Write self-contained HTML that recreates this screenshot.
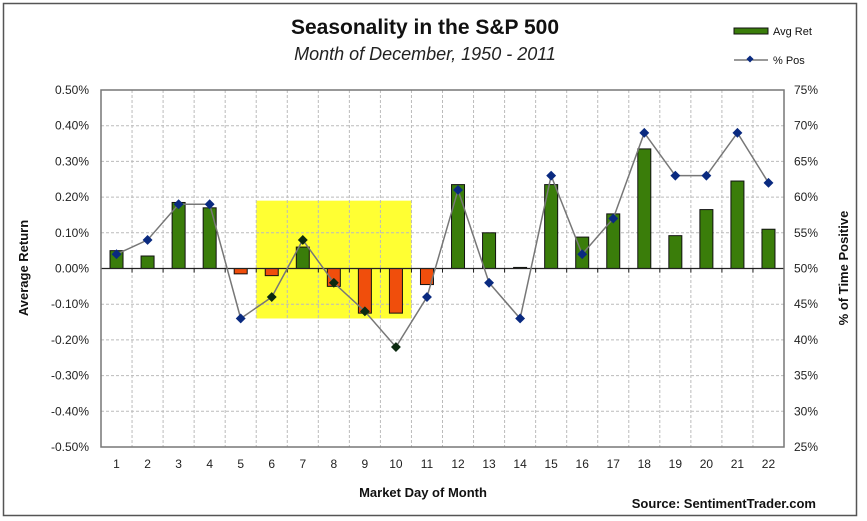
<!DOCTYPE html>
<html><head><meta charset="utf-8"><style>
html,body{margin:0;padding:0;background:#fff;}
svg{display:block;font-family:"Liberation Sans",Arial,sans-serif;}
</style></head><body>
<svg id="chart" width="867" height="521" viewBox="0 0 867 521" xmlns="http://www.w3.org/2000/svg">
<rect x="3.5" y="3.5" width="853" height="512" fill="#fff" stroke="#555" stroke-width="1.5"/>
<text x="425" y="34" text-anchor="middle" font-size="21" font-weight="bold" fill="#111">Seasonality in the S&amp;P 500</text>
<text x="425" y="60" text-anchor="middle" font-size="18" font-style="italic" fill="#222">Month of December, 1950 - 2011</text>
<g>
<rect x="734" y="28" width="34" height="6" fill="#3a7d0a" stroke="#111" stroke-width="1"/>
<text x="773" y="35" font-size="11" fill="#111">Avg Ret</text>
<line x1="734" y1="60" x2="768" y2="60" stroke="#333" stroke-width="1"/>
<rect x="747.5" y="56.5" width="5" height="5" fill="#0a2a80" transform="rotate(45 750 59)"/>
<text x="773" y="64" font-size="11" fill="#111">% Pos</text>
</g>
<g id="grid"></g>
<g id="marks"></g>
<text transform="translate(28,268) rotate(-90)" text-anchor="middle" font-size="13" font-weight="bold" fill="#111">Average Return</text>
<text transform="translate(848,268) rotate(-90)" text-anchor="middle" font-size="13" font-weight="bold" fill="#111">% of Time Positive</text>
<text x="423" y="497" text-anchor="middle" font-size="13" font-weight="bold" fill="#111">Market Day of Month</text>
<text x="816" y="508" text-anchor="end" font-size="13" font-weight="bold" fill="#111">Source: SentimentTrader.com</text>
</svg>
<script>
const days = [1,2,3,4,5,6,7,8,9,10,11,12,13,14,15,16,17,18,19,20,21,22];
const avgRet = [0.05,0.035,0.185,0.17,-0.015,-0.02,0.06,-0.05,-0.125,-0.125,-0.045,0.235,0.10,0.003,0.235,0.088,0.153,0.335,0.092,0.165,0.245,0.11];
const pctPos = [52,54,59,59,43,46,54,48,44,39,46,61,48,43,63,52,57,69,63,63,69,62];
const leftTicks = [0.5,0.4,0.3,0.2,0.1,0,-0.1,-0.2,-0.3,-0.4,-0.5];
const rightTicks = [75,70,65,60,55,50,45,40,35,30,25];
const highlightRange = [6,10];
const highlightVals = [0.19,-0.14];

const NS='http://www.w3.org/2000/svg';
const L=101,R=784,T=90,B=447;
const bw=(R-L)/days.length;
const xc=i=>L+bw*(i+0.5);
const yL=v=>T+(0.5-v)/1.0*(B-T);
const yR=v=>T+(75-v)/50*(B-T);
function mk(tag,attrs,parent){const e=document.createElementNS(NS,tag);for(const k in attrs)e.setAttribute(k,attrs[k]);parent.appendChild(e);return e;}
const grid=document.getElementById('grid'), marks=document.getElementById('marks'), svg=document.getElementById('chart');

const hb=mk('rect',{x:L+bw*(highlightRange[0]-1),y:yL(highlightVals[0]),width:bw*(highlightRange[1]-highlightRange[0]+1),height:yL(highlightVals[1])-yL(highlightVals[0]),fill:'#ffff33'},grid);



leftTicks.forEach((v,i)=>{
  const g=mk('line',{x1:L,x2:R,y1:yL(v),y2:yL(v),stroke:'#bbb','stroke-dasharray':'3,2'},grid);
  
  
  const t=mk('text',{x:L-12,y:yL(v)+4,'text-anchor':'end','font-size':12,fill:'#222'},svg);
  t.textContent=v.toFixed(2)+'%';
  
  
});
rightTicks.forEach(v=>{
  const t=mk('text',{x:R+10,y:yR(v)+4,'font-size':12,fill:'#222'},svg);
  t.textContent=v+'%';
  
  
});
for(let i=1;i<days.length;i++){
  const g=mk('line',{x1:L+bw*i,x2:L+bw*i,y1:T,y2:B,stroke:'#bbb','stroke-dasharray':'3,2'},grid);
  
  
  mk('line',{x1:L+bw*i,x2:L+bw*i,y1:yL(0),y2:yL(0)+4,stroke:'#222'},marks);
}
days.forEach((d,i)=>{
  const t=mk('text',{x:xc(i),y:468,'text-anchor':'middle','font-size':12,fill:'#222'},svg);
  t.textContent=d;
  
  
});
avgRet.forEach((v,i)=>{
  const y0=yL(0),y1=yL(v);
  const b=mk('rect',{x:xc(i)-6.5,y:Math.min(y0,y1),width:13,height:Math.max(1,Math.abs(y1-y0)),fill:v>=0?'#3a7d0a':'#f04e0c',stroke:'#111','stroke-width':1},marks);
  
  
});
mk('line',{x1:L,x2:R,y1:yL(0),y2:yL(0),stroke:'#222','stroke-width':1.2},marks);
mk('rect',{x:L,y:T,width:R-L,height:B-T,fill:'none',stroke:'#777','stroke-width':1.5},marks);
const pl=mk('polyline',{points:pctPos.map((v,i)=>xc(i)+','+yR(v)).join(' '),fill:'none',stroke:'#777','stroke-width':1.5},marks);


pctPos.forEach((v,i)=>{
  const inBox=days[i]>=highlightRange[0]&&days[i]<=highlightRange[1];
  const p=mk('rect',{x:xc(i)-3.5,y:yR(v)-3.5,width:7,height:7,fill:inBox?'#0c2a10':'#0a2a80',transform:'rotate(45 '+xc(i)+' '+yR(v)+')'},marks);
  
  
});
</script>
</body></html>
